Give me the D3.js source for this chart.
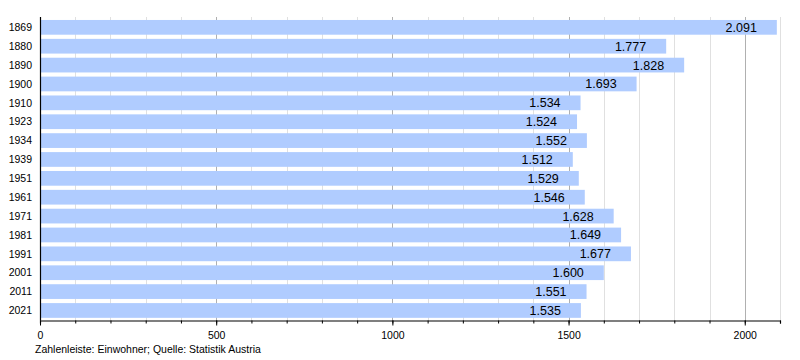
<!DOCTYPE html>
<html>
<head>
<meta charset="utf-8">
<script src="https://cdn.jsdelivr.net/npm/d3@7"></script>
<style>
  body { margin: 0; background: #fff; }
  svg { display: block; font-family: "Liberation Sans", Arial, sans-serif; }
</style>
</head>
<body>
<svg id="chart" width="800" height="360"></svg>
<script>
const years = ["1869","1880","1890","1900","1910","1923","1934","1939","1951","1961","1971","1981","1991","2001","2011","2021"];
const population = [2091,1777,1828,1693,1534,1524,1552,1512,1529,1546,1628,1649,1677,1600,1551,1535];
const xTicks = [0,500,1000,1500,2000];
const footnote = "Zahlenleiste: Einwohner; Quelle: Statistik Austria";

const svg = d3.select("#chart");
const x = d3.scaleLinear().domain([0, 2100]).range([40, 780]);
const y = d3.scaleBand().domain(years).range([17.9, 319.9]).paddingInner(0.22).paddingOuter(0.11);
const axisY = 320.5;

const locale = d3.formatLocale({decimal: ",", thousands: ".", grouping: [3], currency: ["", " €"]});
const fmt = locale.format(",d");

// minor grid
const minor = d3.range(100, 2101, 100).filter(v => v % 500 !== 0);
svg.append("g").selectAll("line").data(minor).join("line")
  .attr("x1", d => Math.round(x(d)) + 0.5).attr("x2", d => Math.round(x(d)) + 0.5)
  .attr("y1", 17).attr("y2", axisY)
  .attr("stroke", "#e0e0e0").attr("stroke-width", 1);
// major grid
svg.append("g").selectAll("line").data(xTicks.filter(d => d > 0)).join("line")
  .attr("x1", d => Math.round(x(d)) + 0.5).attr("x2", d => Math.round(x(d)) + 0.5)
  .attr("y1", 17).attr("y2", axisY)
  .attr("stroke", "#b0b0b0").attr("stroke-width", 1);

// bars
svg.append("g").selectAll("rect").data(years).join("rect")
  .attr("x", x(0))
  .attr("y", d => y(d))
  .attr("width", (d, i) => x(population[i]) - x(0))
  .attr("height", y.bandwidth())
  .attr("fill", "#b0ccff");

// value labels
svg.append("g").selectAll("text").data(years).join("text")
  .attr("x", (d, i) => x(population[i]) - 20)
  .attr("y", d => y(d) + y.bandwidth() / 2)
  .attr("dy", "0.36em")
  .attr("text-anchor", "end")
  .attr("font-size", 12.5)
  .attr("fill", "#000")
  .text((d, i) => fmt(population[i]));

// year labels
svg.append("g").selectAll("text").data(years).join("text")
  .attr("x", 32)
  .attr("y", d => y(d) + y.bandwidth() / 2)
  .attr("dy", "0.36em")
  .attr("text-anchor", "end")
  .attr("font-size", 10.5)
  .attr("fill", "#000")
  .text(d => d);

// y axis line
svg.append("line").attr("x1", 40.5).attr("x2", 40.5).attr("y1", 17).attr("y2", axisY)
  .attr("stroke", "#000").attr("stroke-width", 1.2);

// x axis
const minorAxis = d3.axisBottom(x).tickValues(d3.range(0, 2101, 100)).tickSize(3).tickFormat("");
svg.append("g").attr("transform", `translate(0,${axisY})`).call(minorAxis)
  .call(g => g.select(".domain").attr("stroke", "#000").attr("stroke-width", 1.2))
  .call(g => g.selectAll(".tick line").attr("stroke", "#000"));
const majorAxis = d3.axisBottom(x).tickValues(xTicks).tickSize(5).tickPadding(6).tickFormat(d3.format("d"));
svg.append("g").attr("transform", `translate(0,${axisY})`).call(majorAxis)
  .call(g => g.select(".domain").remove())
  .call(g => g.selectAll(".tick line").attr("stroke", "#000"))
  .call(g => g.selectAll(".tick text").attr("font-size", 10.5).attr("fill", "#000")
               .attr("font-family", "\"Liberation Sans\", Arial, sans-serif"));

// footnote
svg.append("text").attr("x", 35).attr("y", 353)
  .attr("font-size", 10.5).attr("fill", "#000").text(footnote);
</script>
</body>
</html>
